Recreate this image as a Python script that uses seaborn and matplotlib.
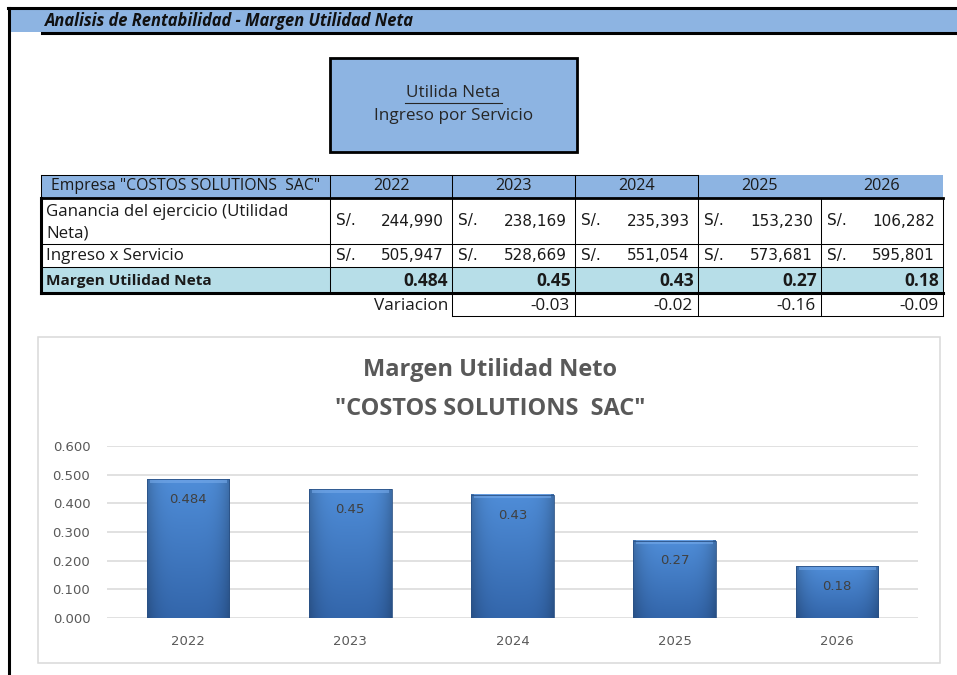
import numpy as np
import matplotlib
matplotlib.use("Agg")
import matplotlib.pyplot as plt
import seaborn as sns
from matplotlib.patches import Rectangle
from matplotlib.colors import to_rgb

# ---- data -------------------------------------------------------------
years = ["2022", "2023", "2024", "2025", "2026"]
utilidad_neta = [244990, 238169, 235393, 153230, 106282]
ingreso_servicio = [505947, 528669, 551054, 573681, 595801]
margen_neto = [0.484, 0.45, 0.43, 0.27, 0.18]
margen_labels = ["0.484", "0.45", "0.43", "0.27", "0.18"]
variacion = [-0.03, -0.02, -0.16, -0.09]
y_ticks = [0.0, 0.1, 0.2, 0.3, 0.4, 0.5, 0.6]

empresa = 'Empresa "COSTOS SOLUTIONS  SAC"'
titulo_hoja = "Analisis de Rentabilidad - Margen Utilidad Neta"
titulo_grafico = ["Margen Utilidad Neto", '"COSTOS SOLUTIONS  SAC"']

# ---- style ------------------------------------------------------------
sns.set_theme(style="white")
plt.rcParams["font.family"] = ["Open Sans", "DejaVu Sans"]

HEAD_BLUE = "#8DB4E2"
ROW_AQUA = "#B7DEE8"
GRAY_TXT = "#595959"
GRID = "#D9D9D9"
NUM_FONT = ["DejaVu Sans"]
TXT = 11.6
ROW_TXT = 12.2

W, H = 957, 675
fig = plt.figure(figsize=(W / 100, H / 100), dpi=100)
fig.patch.set_facecolor("white")

# sheet layer in pixel coordinates
sheet = fig.add_axes([0, 0, 1, 1])
sheet.set_xlim(0, W)
sheet.set_ylim(H, 0)
sheet.axis("off")


def rect(x0, y0, x1, y1, fc="none", ec="none", lw=0.0, z=1):
    sheet.add_patch(Rectangle((x0, y0), x1 - x0, y1 - y0, facecolor=fc,
                              edgecolor=ec, linewidth=lw, zorder=z))


def hline(x0, x1, y, lw=0.75, c="black", z=3):
    sheet.plot([x0, x1], [y, y], color=c, lw=lw, solid_capstyle="projecting", zorder=z)


def vline(x, y0, y1, lw=0.75, c="black", z=3):
    sheet.plot([x, x], [y0, y1], color=c, lw=lw, solid_capstyle="projecting", zorder=z)


def txt(x, y, s, ha="left", size=TXT, weight="normal", style="normal",
        color="#1a1a1a", family=None, z=4):
    kw = {}
    if family is not None:
        kw["family"] = family
    return sheet.text(x, y, s, ha=ha, va="center", fontsize=size, fontweight=weight,
                      fontstyle=style, color=color, zorder=z, **kw)


# sheet header band
rect(10, 10, W, 31.5, fc=HEAD_BLUE)
hline(8, W, 8, lw=2.2)
vline(9, 8, H, lw=2.2)
hline(42, W, 32.5, lw=2.2)
txt(45, 20.5, titulo_hoja, size=11.9, weight="bold", style="italic", color="#111111")

# formula box
rect(330, 58, 577, 152, fc=HEAD_BLUE, ec="black", lw=2.0, z=2)
txt(453.5, 93, "Utilida Neta", ha="center", size=12.3, color="#262626")
hline(405, 502, 102.5, lw=0.8, c="#262626")
txt(453.5, 116, "Ingreso por Servicio", ha="center", size=12.3, color="#262626")

# ---- table ------------------------------------------------------------
cols = [41, 330, 452, 575, 698, 821, 943]
r_head, r1, r2, r3, r4, r5 = 175, 198, 244, 267, 293, 316

rect(cols[0], r_head, cols[-1], r1, fc=HEAD_BLUE)
rect(cols[0], r3, cols[-1], r4, fc=ROW_AQUA)

# header borders
hline(cols[0], cols[4], r_head)
vline(cols[0], r_head, r1)
for x in cols[1:5]:
    vline(x, r_head, r1)
# body grid
for y in (r2, r3):
    hline(cols[0], cols[-1], y)
for x in cols[1:-1]:
    vline(x, r1, r4)
vline(cols[-1], r1, r4)
hline(cols[0], cols[-1], r1, lw=2.0)
hline(cols[0], cols[-1], r4, lw=2.2)
vline(cols[0], r1, r4, lw=2.2)
# variation row
hline(cols[2], cols[-1], r5)
for x in cols[2:]:
    vline(x, r4, r5)

txt((cols[0] + cols[1]) / 2, (r_head + r1) / 2, empresa, ha="center", size=11.3)
for i, yr in enumerate(years):
    txt((cols[i + 1] + cols[i + 2]) / 2, (r_head + r1) / 2, yr, ha="center")

txt(46, 212, "Ganancia del ejercicio (Utilidad", size=ROW_TXT)
txt(46, 233, "Neta)", size=ROW_TXT)
txt(46, (r2 + r3) / 2, "Ingreso x Servicio", size=ROW_TXT)
txt(46, (r3 + r4) / 2 + 1, "Margen Utilidad Neta", size=11.1, weight="bold")
txt(448, (r4 + r5) / 2 + 1.5, "Variacion", ha="right", size=12.3)

for i in range(len(years)):
    left, right = cols[i + 1], cols[i + 2]
    for val, yc in ((utilidad_neta[i], (r1 + r2) / 2), (ingreso_servicio[i], (r2 + r3) / 2)):
        txt(left + 6, yc, "S/.", size=11, family=NUM_FONT)
        txt(right - 8, yc, f"{val:,}", ha="right", size=11, family=NUM_FONT)
    txt(right - 4, (r3 + r4) / 2 + 1, margen_labels[i], ha="right", size=12.5, weight="bold")
for i, v in enumerate(variacion):
    txt(cols[i + 3] - 5, (r4 + r5) / 2 + 1.5, f"{v:.2f}", ha="right", size=12.3)

# ---- chart ------------------------------------------------------------
rect(38, 337, 940, 663, fc="white", ec=GRID, lw=1.1, z=1)
txt(490, 370, titulo_grafico[0], ha="center", size=17, weight="bold", color=GRAY_TXT)
txt(490, 409, titulo_grafico[1], ha="center", size=17, weight="bold", color=GRAY_TXT)

ax = fig.add_axes([107 / W, 1 - 618 / H, (918 - 107) / W, (618 - 446) / H])
ax.patch.set_alpha(0)
sns.barplot(x=years, y=margen_neto, ax=ax, color="#3C73BD", width=0.51,
            saturation=1, edgecolor="#2A5185", linewidth=0.6)
ax.set_ylim(0, 0.6)
xlim = ax.get_xlim()

# shaded fill for each bar
top_c = np.array(to_rgb("#4F8DD8"))
bot_c = np.array(to_rgb("#3366AB"))
bevel_c = np.array(to_rgb("#76AAEA"))
px_per_unit = (618 - 446) / 0.6
for p in list(ax.patches):
    x0, w, h = p.get_x(), p.get_width(), p.get_height()
    ny = max(int(round(h * px_per_unit)), 2)
    nx = 83
    t = np.linspace(0, 1, ny)[:, None, None]
    col = top_c * (1 - t) + bot_c * t
    u = np.linspace(-1, 1, nx)[None, :, None]
    shade = 1 - 0.22 * np.abs(u) ** 4
    img = np.clip(col * shade, 0, 1) * np.ones((ny, nx, 3))
    img[:4, 3:-3] = bevel_c
    img[:4] = img[:4] * 0.6 + img[4:5] * 0.4
    ax.imshow(img, extent=[x0, x0 + w, 0, h], origin="upper", aspect="auto",
              interpolation="bilinear", zorder=2.5)
    p.set_facecolor("none")
    p.set_zorder(3)
ax.set_xlim(xlim)
ax.set_ylim(0, 0.6)

for i, (v, lab) in enumerate(zip(margen_neto, margen_labels)):
    ax.annotate(lab, (i, v), xytext=(0, -10), textcoords="offset points",
                ha="center", va="top", fontsize=9.5, color="#404040",
                family=NUM_FONT, zorder=5)

ax.set_yticks(y_ticks)
ax.set_yticklabels([f"{v:.3f}" for v in y_ticks], family=NUM_FONT)
ax.set_xticks(range(len(years)))
ax.set_xticklabels(years, family=NUM_FONT)
ax.tick_params(axis="both", length=0, labelsize=9.5, labelcolor=GRAY_TXT)
ax.tick_params(axis="y", pad=12)
ax.tick_params(axis="x", pad=12)
ax.set_xlabel("")
ax.set_ylabel("")
ax.set_axisbelow(True)
ax.yaxis.grid(True, color=GRID, lw=1.1)
ax.xaxis.grid(False)
sns.despine(ax=ax, left=True, bottom=True)
for s in ax.spines.values():
    s.set_visible(False)

fig.savefig("out.png", dpi=100, facecolor="white")
